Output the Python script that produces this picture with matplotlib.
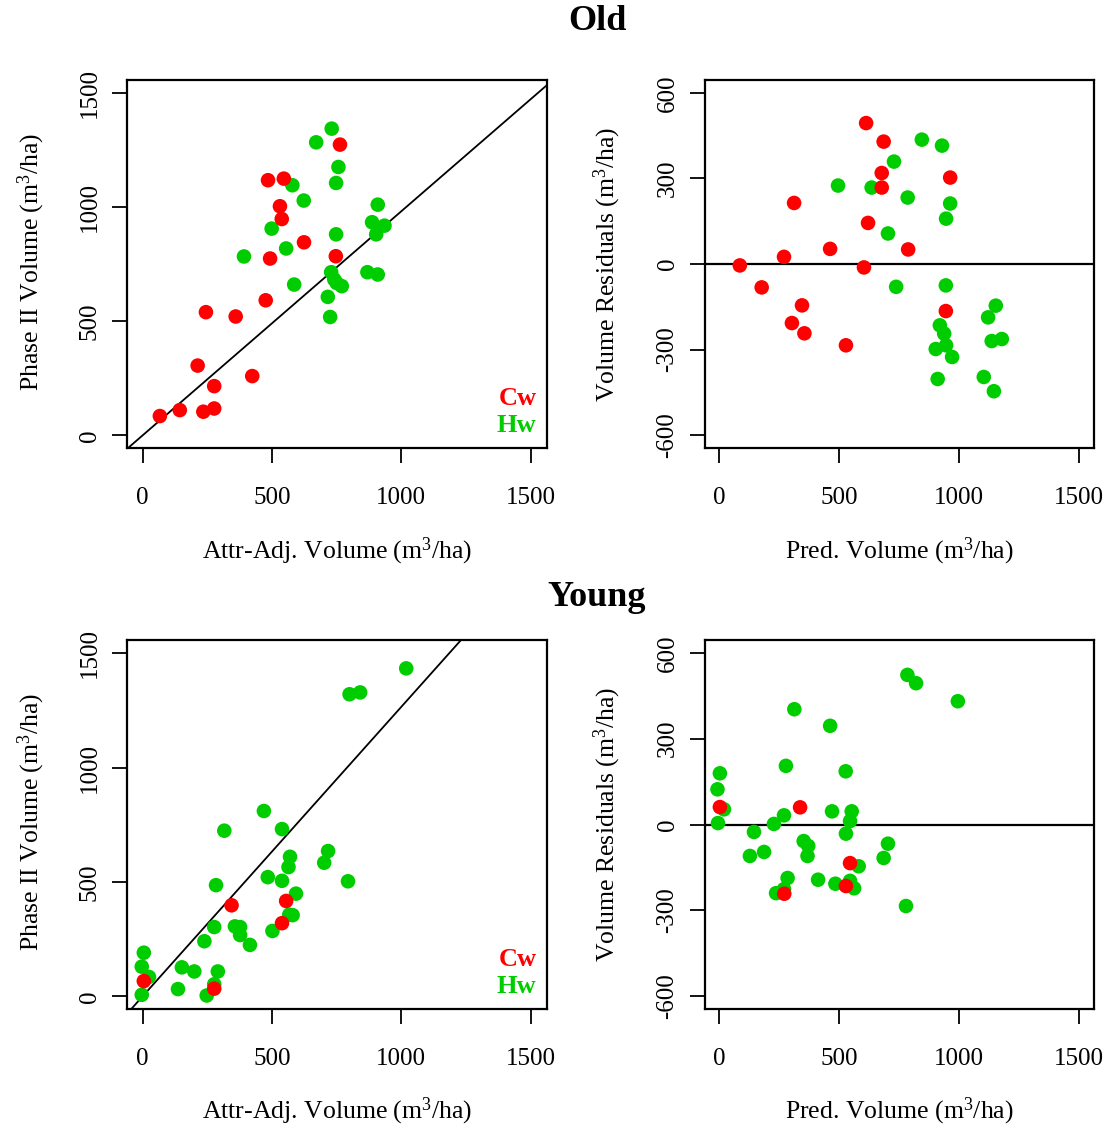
import matplotlib
matplotlib.use("Agg")
import matplotlib.pyplot as plt
import numpy as np

plt.rcParams['font.family'] = ['Liberation Serif', 'DejaVu Serif']
plt.rcParams['mathtext.fontset'] = 'custom'
plt.rcParams['mathtext.rm'] = 'Liberation Serif'
plt.rcParams['mathtext.it'] = 'Liberation Serif:italic'
plt.rcParams['axes.unicode_minus'] = False

RED = '#FF0000'
GREEN = '#00CD00'

# ---- Old stands: Phase II vs attr-adjusted volume ----
old_cw_x = [67, 144, 235, 277, 277, 213, 424, 245, 360, 476, 493, 624, 538, 531, 485, 546, 747, 763]
old_cw_y = [85, 111, 104, 118, 216, 306, 260, 540, 521, 592, 775, 846, 948, 1004, 1118, 1125, 785, 1274]
old_hw_x = [731, 671, 757, 748, 579, 623, 499, 392, 555, 748, 586, 909, 887, 935, 903, 729, 741, 750, 770, 869, 909, 716, 725]
old_hw_y = [1344, 1284, 1176, 1106, 1096, 1029, 906, 784, 819, 881, 661, 1011, 934, 919, 881, 715, 683, 668, 654, 715, 705, 607, 519]

# ---- Old stands: residuals vs predicted ----
old_res_cw_x = [613, 686, 678, 963, 678, 313, 621, 463, 788, 271, 87, 604, 178, 346, 945, 304, 356, 529]
old_res_cw_y = [494, 429, 319, 303, 268, 214, 144, 53, 51, 25, -5, -12, -82, -145, -165, -207, -243, -285]
old_res_hw_x = [845, 929, 729, 496, 636, 786, 963, 946, 704, 738, 945, 1153, 1121, 920, 938, 946, 903, 971, 1136, 1178, 911, 1103, 1145]
old_res_hw_y = [436, 415, 359, 275, 268, 233, 212, 159, 107, -80, -75, -146, -187, -215, -244, -285, -298, -326, -270, -263, -403, -396, -446]

# ---- Young stands: Phase II vs attr-adjusted volume ----
young_cw_x = [344, 555, 539, 5, 277]
young_cw_y = [398, 417, 320, 67, 34]
young_hw_x = [1019, 800, 841, 469, 316, 539, 717, 702, 570, 564, 484, 539, 794, 284, 593, 567, 580,
              277, 357, 377, 377, 502, 415, 239, 5, -3, 25, 152, 200, 291, 137, 277, 248, -3]
young_hw_y = [1433, 1320, 1328, 810, 724, 731, 635, 584, 610, 565, 521, 505, 503, 486, 449, 357, 355,
              303, 306, 303, 268, 286, 225, 241, 191, 130, 85, 127, 109, 109, 32, 53, 4, 7]

# ---- Young stands: residuals vs predicted ----
young_res_cw_x = [4, 338, 546, 529, 272]
young_res_cw_y = [61, 60, -135, -215, -242]
young_res_hw_x = [785, 821, 995, 314, 463, 279, 528, 4, -6, 21, 271, 471, 553, 546, -4, 229, 529,
                  146, 353, 372, 369, 704, 686, 188, 129, 582, 286, 413, 485, 546, 563, 238, 271, 779]
young_res_hw_y = [523, 494, 431, 403, 345, 205, 186, 179, 123, 53, 32, 46, 46, 12, 5, 2, -32,
                  -26, -58, -75, -110, -67, -117, -96, -110, -146, -187, -193, -207, -197, -223, -240, -226, -285]

vol_ticks = [0, 500, 1000, 1500]
res_ticks = [-600, -300, 0, 300, 600]
old_slope = 0.982
young_slope = 1.265

W, H = 1110, 1131
fig = plt.figure(figsize=(W / 100, H / 100), dpi=100)


def rect(left, right, top, bottom):
    return [left / W, 1 - bottom / H, (right - left) / W, (bottom - top) / H]


def style(ax, xt, yt):
    ax.set_xticks(xt)
    ax.set_yticks(yt)
    ax.set_xticklabels([str(t) for t in xt])
    ax.set_yticklabels([str(t) for t in yt])
    ax.tick_params(axis='both', direction='out', length=11, width=1.3, labelsize=18)
    ax.tick_params(axis='x', pad=17)
    ax.tick_params(axis='y', pad=8)
    for lab in ax.get_yticklabels():
        lab.set_rotation(90)
        lab.set_va('center')
    for sp in ax.spines.values():
        sp.set_linewidth(1.6)


def scatter_panel(ax, cwx, cwy, hwx, hwy):
    # Hw drawn first so Cw sits on top where they overlap
    ax.scatter(hwx, hwy, s=110, color=GREEN, edgecolors='none', zorder=3)
    ax.scatter(cwx, cwy, s=110, color=RED, edgecolors='none', zorder=4)


def vol_panel(r, cwx, cwy, hwx, hwy, slope):
    ax = fig.add_axes(r)
    scatter_panel(ax, cwx, cwy, hwx, hwy)
    ax.set_xlim(-60, 1563)
    ax.set_ylim(-55, 1557)
    xs = np.array([-100, 1700])
    ax.plot(xs, slope * xs, color='black', lw=1.3, zorder=2)
    style(ax, vol_ticks, vol_ticks)
    ax.text(0.975, 0.135, 'Cw', color=RED, fontsize=19, fontweight='bold',
            ha='right', va='center', transform=ax.transAxes)
    ax.text(0.975, 0.062, 'Hw', color=GREEN, fontsize=19, fontweight='bold',
            ha='right', va='center', transform=ax.transAxes)
    return ax


def res_panel(r, cwx, cwy, hwx, hwy):
    ax = fig.add_axes(r)
    scatter_panel(ax, cwx, cwy, hwx, hwy)
    ax.set_xlim(-58, 1562)
    ax.set_ylim(-645, 645)
    ax.axhline(0, color='black', lw=1.6, zorder=2)
    style(ax, vol_ticks, res_ticks)
    return ax


vol_panel(rect(127, 547, 80, 448), old_cw_x, old_cw_y, old_hw_x, old_hw_y, old_slope)
res_panel(rect(705, 1094, 80, 448), old_res_cw_x, old_res_cw_y, old_res_hw_x, old_res_hw_y)
vol_panel(rect(127, 547, 640, 1009), young_cw_x, young_cw_y, young_hw_x, young_hw_y, young_slope)
res_panel(rect(705, 1094, 640, 1009), young_res_cw_x, young_res_cw_y, young_res_hw_x, young_res_hw_y)

unit = r'(m$^{3}$/ha)'


def ftext(x, y, s, **kw):
    fig.text(x / W, 1 - y / H, s, ha='center', va='center', **kw)


ftext(597, 22, 'Old', fontsize=26, fontweight='bold')
ftext(597, 598, 'Young', fontsize=26, fontweight='bold')
for top in (0, 560):
    ftext(337, 551 + top, 'Attr-Adj. Volume ' + unit, fontsize=18.5)
    ftext(899, 551 + top, 'Pred. Volume ' + unit, fontsize=18.5)
    ftext(31, 262 + top, 'Phase II Volume ' + unit, fontsize=18.5, rotation=90)
    ftext(607, 264 + top, 'Volume Residuals ' + unit, fontsize=18.5, rotation=90)

fig.savefig('out.png', dpi=100)
